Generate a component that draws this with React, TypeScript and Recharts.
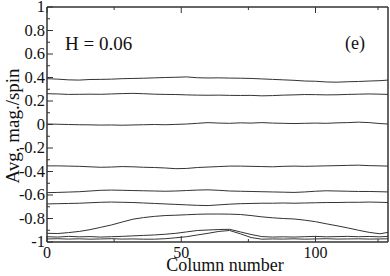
import React from 'react';
import { LineChart, Line, XAxis, YAxis } from 'recharts';

// column index along the strip (sampled every 4 columns)
const columns = [0, 4, 8, 12, 16, 20, 24, 28, 32, 36, 40, 44, 48, 52, 56, 60, 64, 68, 72, 76, 80, 84, 88, 92, 96, 100, 104, 108, 112, 116, 120, 124, 127];

// average magnetisation per spin, one array per curve (top to bottom)
const mag1 = [0.39, 0.386, 0.38, 0.378, 0.383, 0.384, 0.386, 0.39, 0.392, 0.394, 0.397, 0.4, 0.402, 0.405, 0.398, 0.396, 0.397, 0.395, 0.394, 0.392, 0.388, 0.384, 0.38, 0.376, 0.37, 0.368, 0.362, 0.36, 0.364, 0.366, 0.37, 0.373, 0.378];
const mag2 = [0.262, 0.26, 0.256, 0.257, 0.258, 0.257, 0.26, 0.263, 0.265, 0.262, 0.258, 0.256, 0.255, 0.252, 0.25, 0.249, 0.25, 0.248, 0.247, 0.248, 0.244, 0.246, 0.25, 0.252, 0.255, 0.254, 0.252, 0.253, 0.256, 0.258, 0.26, 0.258, 0.256];
const mag3 = [0.004, 0.002, 0.0, -0.002, -0.003, -0.005, -0.004, -0.006, -0.004, -0.002, 0.0, -0.002, 0.001, 0.004, 0.01, 0.016, 0.012, 0.01, 0.014, 0.012, 0.016, 0.012, 0.01, 0.008, 0.01, 0.012, 0.01, 0.014, 0.016, 0.02, 0.016, 0.008, 0.004];
const mag4 = [-0.352, -0.352, -0.354, -0.356, -0.36, -0.364, -0.362, -0.358, -0.36, -0.364, -0.366, -0.37, -0.376, -0.374, -0.366, -0.362, -0.358, -0.354, -0.354, -0.356, -0.358, -0.36, -0.356, -0.354, -0.356, -0.354, -0.352, -0.35, -0.348, -0.346, -0.35, -0.352, -0.354];
const mag5 = [-0.58, -0.578, -0.575, -0.572, -0.566, -0.56, -0.558, -0.56, -0.562, -0.564, -0.566, -0.568, -0.566, -0.562, -0.558, -0.556, -0.56, -0.566, -0.568, -0.57, -0.572, -0.574, -0.576, -0.578, -0.574, -0.568, -0.564, -0.566, -0.568, -0.57, -0.57, -0.572, -0.574];
const mag6 = [-0.676, -0.674, -0.672, -0.67, -0.666, -0.662, -0.66, -0.662, -0.664, -0.668, -0.672, -0.676, -0.68, -0.684, -0.688, -0.69, -0.684, -0.678, -0.674, -0.672, -0.67, -0.67, -0.668, -0.67, -0.668, -0.666, -0.664, -0.664, -0.662, -0.662, -0.66, -0.662, -0.664];
const mag7 = [-0.926, -0.928, -0.92, -0.91, -0.895, -0.875, -0.855, -0.83, -0.806, -0.792, -0.782, -0.775, -0.772, -0.768, -0.764, -0.762, -0.762, -0.763, -0.766, -0.775, -0.786, -0.794, -0.8, -0.804, -0.814, -0.827, -0.845, -0.862, -0.88, -0.9, -0.918, -0.93, -0.918];
const mag8 = [-0.955, -0.958, -0.952, -0.956, -0.954, -0.958, -0.955, -0.952, -0.948, -0.944, -0.94, -0.934, -0.926, -0.914, -0.902, -0.898, -0.894, -0.892, -0.914, -0.936, -0.954, -0.958, -0.956, -0.958, -0.955, -0.952, -0.956, -0.954, -0.952, -0.955, -0.953, -0.956, -0.952];
const mag9 = [-0.974, -0.972, -0.975, -0.973, -0.976, -0.974, -0.972, -0.975, -0.974, -0.976, -0.976, -0.972, -0.964, -0.955, -0.94, -0.926, -0.91, -0.902, -0.93, -0.962, -0.976, -0.974, -0.975, -0.973, -0.976, -0.974, -0.972, -0.975, -0.974, -0.973, -0.975, -0.974, -0.973];

const xTicks = [0, 25, 50, 75, 100, 125];
const yTicks = [-1, -0.9, -0.8, -0.7, -0.6, -0.5, -0.4, -0.3, -0.2, -0.1, 0, 0.1, 0.2, 0.3, 0.4, 0.5, 0.6, 0.7, 0.8, 0.9, 1];

const series = [mag1, mag2, mag3, mag4, mag5, mag6, mag7, mag8, mag9];

const data = columns.map((col, i) => {
  const row: Record<string, number> = { col };
  series.forEach((s, k) => {
    row['m' + k] = s[i];
  });
  return row;
});

const FONT = 'Liberation Serif, Times New Roman, DejaVu Serif, serif';
const INK = '#111';
const FRAME = '#333';

const isMajorX = (v: number) => v % 50 === 0;
const isMajorY = (v: number) => Math.round(v * 10) % 2 === 0;

const BottomTick = ({ x, y, payload }: any) => {
  const major = isMajorX(payload.value);
  return (
    <g>
      <line x1={x} x2={x} y1={y} y2={y - (major ? 6 : 3)} stroke={FRAME} />
      {major && (
        <text x={x} y={y + 16} textAnchor="middle" fontSize={16} style={{ fontFamily: FONT }} fill={INK}>
          {payload.value}
        </text>
      )}
    </g>
  );
};

const TopTick = ({ x, y, payload }: any) => {
  const major = isMajorX(payload.value);
  return <line x1={x} x2={x} y1={y} y2={y + (major ? 6 : 3)} stroke={FRAME} />;
};

const LeftTick = ({ x, y, payload }: any) => {
  const major = isMajorY(payload.value);
  return (
    <g>
      <line x1={x} x2={x + (major ? 6 : 3)} y1={y} y2={y} stroke={FRAME} />
      {major && (
        <text x={x - 2} y={y + 5} textAnchor="end" fontSize={16.5} style={{ fontFamily: FONT }} fill={INK}>
          {String(Math.round(payload.value * 10) / 10)}
        </text>
      )}
    </g>
  );
};

const RightTick = ({ x, y, payload }: any) => {
  const major = isMajorY(payload.value);
  return <line x1={x} x2={x - (major ? 6 : 3)} y1={y} y2={y} stroke={FRAME} />;
};

export default function App() {
  return (
    <div style={{ position: 'absolute', left: 0, top: 0 }}>
      <LineChart width={390} height={276} data={data} margin={{ top: 7, right: 2, bottom: 0, left: 0 }}>
        <XAxis
          xAxisId="b"
          dataKey="col"
          type="number"
          domain={[0, 127]}
          ticks={xTicks}
          height={34}
          tickSize={0}
          tickMargin={0}
          tickLine={false}
          axisLine={{ stroke: FRAME, strokeWidth: 1.5 }}
          tick={BottomTick}
        />
        <XAxis
          xAxisId="t"
          orientation="top"
          mirror
          dataKey="col"
          type="number"
          domain={[0, 127]}
          ticks={xTicks}
          tickSize={0}
          tickMargin={0}
          tickLine={false}
          axisLine={{ stroke: FRAME, strokeWidth: 1.5 }}
          tick={TopTick}
        />
        <YAxis
          yAxisId="l"
          type="number"
          domain={[-1, 1]}
          ticks={yTicks}
          width={47}
          tickSize={0}
          tickMargin={0}
          tickLine={false}
          axisLine={{ stroke: FRAME, strokeWidth: 1.5 }}
          tick={LeftTick}
          interval={0}
        />
        <YAxis
          yAxisId="r"
          orientation="right"
          mirror
          type="number"
          domain={[-1, 1]}
          ticks={yTicks}
          tickSize={0}
          tickMargin={0}
          tickLine={false}
          axisLine={{ stroke: FRAME, strokeWidth: 1.5 }}
          tick={RightTick}
          interval={0}
        />
        {series.map((_, k) => (
          <Line
            key={k}
            xAxisId="b"
            yAxisId="l"
            dataKey={'m' + k}
            stroke="#333"
            strokeWidth={1}
            dot={false}
            isAnimationActive={false}
          />
        ))}
        <text x={65} y={50} fontSize={19} style={{ fontFamily: FONT }} fill={INK}>
          H = 0.06
        </text>
        <text x={345} y={49} fontSize={18} style={{ fontFamily: FONT }} fill={INK}>
          (e)
        </text>
        <text x={225} y={271} textAnchor="middle" fontSize={18} style={{ fontFamily: FONT }} fill={INK}>
          Column number
        </text>
        <text
          x={19}
          y={126}
          textAnchor="middle"
          fontSize={19}
          style={{ fontFamily: FONT }}
          fill={INK}
          transform="rotate(-90, 19, 126)"
        >
          Avg. mag./spin
        </text>
      </LineChart>
    </div>
  );
}
